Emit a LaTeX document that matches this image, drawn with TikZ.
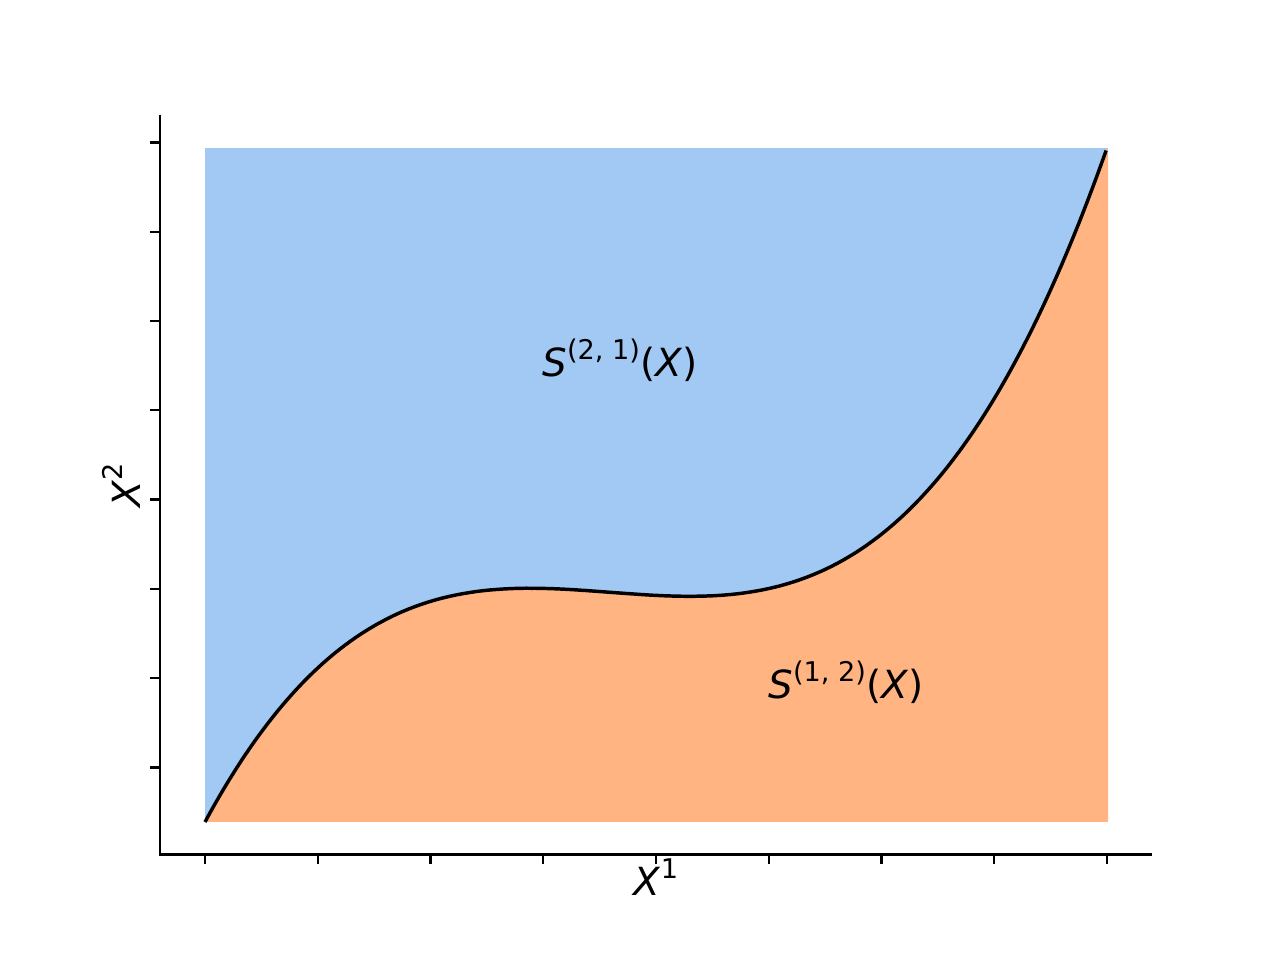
\documentclass[tikz,border=0pt]{standalone}
\usepackage{fontspec}
\setmainfont{DejaVu Sans}
\definecolor{pblue}{HTML}{A1C9F4}
\definecolor{porange}{HTML}{FFB482}
\newcommand{\supx}[1]{\raisebox{6.3pt}{\fontsize{9.8pt}{10pt}\selectfont #1}}
\tikzset{
  spine/.style={line width=0.8pt, line cap=butt},
  tickmark/.style={line width=0.8pt},
  curveline/.style={line width=1.25pt, black},
  lbl/.style={inner sep=0pt, font=\fontsize{14pt}{16pt}\selectfont},
  declare function={cv(\u)=4.27*\u^3-5.75*\u^2+2.48*\u;}
}
\begin{document}
\begin{tikzpicture}[x=0.0127cm, y=-0.0127cm]
\useasboundingbox (0,0) rectangle (1280,960);
% regions
\fill[pblue] (204.5,148) rectangle (1108,822);
\fill[porange] (205,822) -- plot[domain=0:1, samples=200, variable=\u] ({205+902*\u},{822-674*cv(\u)}) -- (1108,148) -- (1108,822) -- cycle;
\draw[curveline] plot[domain=0:1, samples=200, variable=\u] ({205+902*\u},{822-674*cv(\u)});
% spines
\draw[spine] (160,114.6) -- (160,854.4) -- (1152,854.4);
% ticks
\foreach \k in {0,...,8} \draw[tickmark] ({205+112.75*\k},854.4) -- ({205+112.75*\k},864.1);
\foreach \k in {0,...,7} \draw[tickmark] (160,{767.5-89.3*\k}) -- (150.3,{767.5-89.3*\k});
% labels
\node[lbl] (s21) at (620,360) {\textit{S}\supx{(2, 1)}(\textit{X})};
\node[lbl] (s12) at (846,682) {\textit{S}\supx{(1, 2)}(\textit{X})};
\node[lbl, anchor=base] (xl) at (656,896) {\textit{X}\supx{1}};
\node[lbl, anchor=base, rotate=90] (yl) at (140,485) {\textit{X}\supx{2}};
\end{tikzpicture}
\end{document}
